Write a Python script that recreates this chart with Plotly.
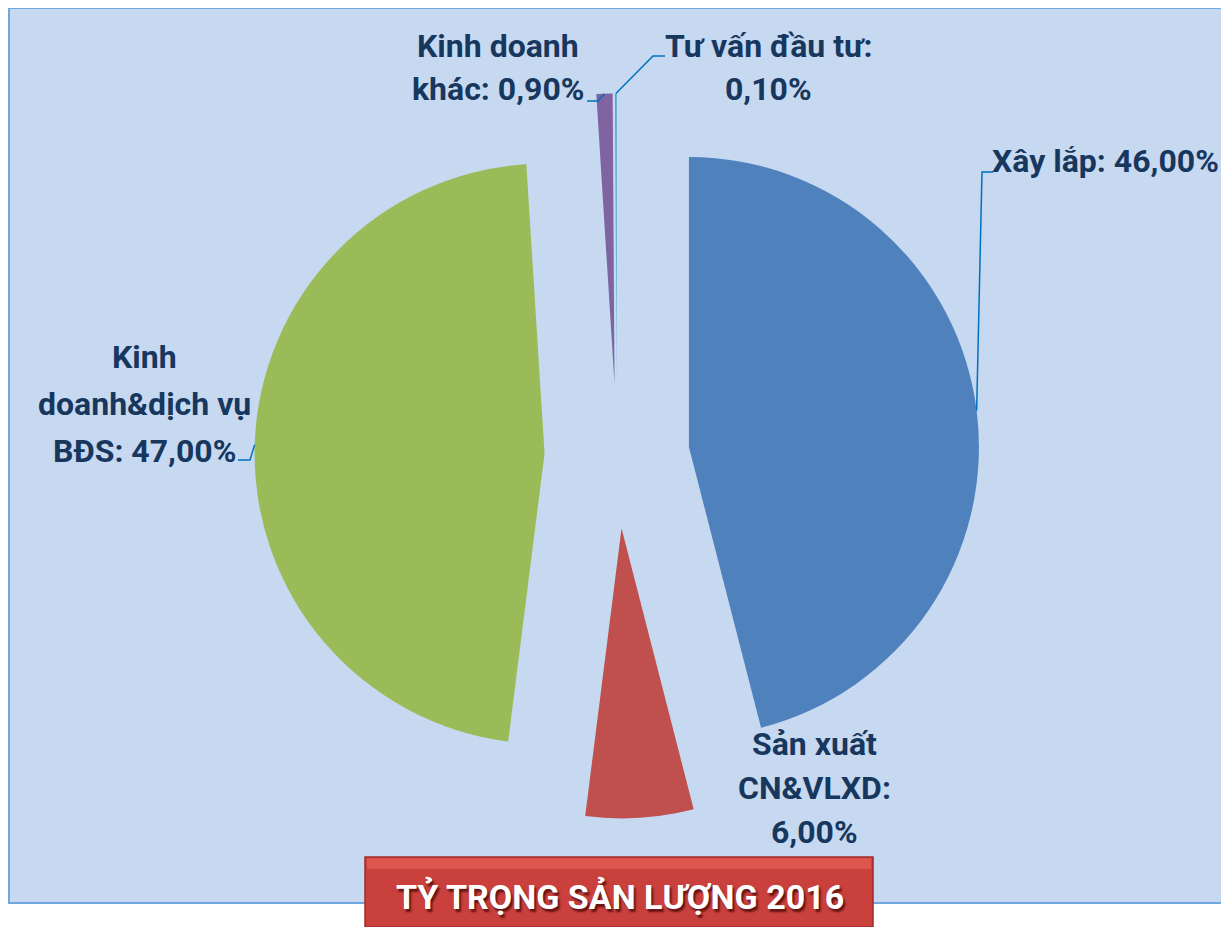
import math
import plotly.graph_objects as go

labels = ["Xây lắp", "Sản xuất CN&VLXD", "Kinh doanh&dịch vụ BĐS", "Kinh doanh khác", "Tư vấn đầu tư"]
values = [46.0, 6.0, 47.0, 0.9, 0.1]
colors = ["#4F81BD", "#C0504D", "#9BBB59", "#8064A2", "#4BACC6"]
label_lines = [
    ["Xây lắp: 46,00%"],
    ["Sản xuất", "CN&VLXD:", "6,00%"],
    ["Kinh", "doanh&dịch vụ", "BĐS: 47,00%"],
    ["Kinh doanh", "khác: 0,90%"],
    ["Tư vấn đầu tư:", "0,10%"],
]
title_text = "TỶ TRỌNG SẢN LƯỢNG 2016"

# page is 1229x935, body has an 8px margin around the plot div
W, H = 1229, 935
OFF = 8
FW, FH = W - 2 * OFF, H - 2 * OFF
FONT = "Roboto, Liberation Sans, Arial, sans-serif"
TXT = "#17375E"
LEADER = "#0070C0"

# pie geometry in page pixels
cx, cy = 617, 456
R = 290
pull = 0.25
S = R * (1 + pull)


def px(x):
    return (x - OFF) / FW


def py(y):
    return 1 - (y - OFF) / FH


fig = go.Figure()
fig.add_trace(go.Pie(
    labels=labels,
    values=values,
    sort=False,
    direction="clockwise",
    rotation=0,
    pull=[pull] * len(values),
    marker=dict(colors=colors, line=dict(width=0)),
    textinfo="none",
    hoverinfo="label+percent",
    showlegend=False,
    domain=dict(x=[px(cx - S), px(cx + S)], y=[py(cy + S), py(cy - S)]),
))

# arc midpoint of each pulled slice
total = sum(values)
anchors = []
cum = 0
for v in values:
    a = (cum + v / 2) / total * 2 * math.pi
    cum += v
    ox = cx + pull * R * math.sin(a)
    oy = cy - pull * R * math.cos(a)
    anchors.append((ox + R * math.sin(a), oy - R * math.cos(a)))

# label centre x, y of first line, line step; leader elbows (page pixels)
label_pos = [(1105, 161, 0), (814, 744, 44), (144, 357, 47), (498, 46, 43), (768, 46, 43)]
elbows = [
    [(982, 172), (993, 172)],
    None,
    [(250, 460), (238, 460)],
    [(598, 101), (587, 101)],
    [(653, 56), (665, 56)],
]

shapes = [
    dict(type="rect", xref="paper", yref="paper", layer="below",
         x0=px(9), x1=px(1227), y0=py(903), y1=py(8),
         fillcolor="#C6D9F1", line=dict(color="#6FA8DC", width=2)),
]
for anc, elb in zip(anchors, elbows):
    if elb is None:
        continue
    pts = [anc] + elb
    path = "M " + " L ".join(f"{px(x)},{py(y)}" for x, y in pts)
    shapes.append(dict(type="path", xref="paper", yref="paper", path=path,
                       line=dict(color=LEADER, width=1.5)))

# title box
shapes.append(dict(type="rect", xref="paper", yref="paper",
                   x0=px(365), x1=px(873), y0=0, y1=py(857),
                   fillcolor="#C9403D", line=dict(color="#9E2B29", width=1.5)))
shapes.append(dict(type="rect", xref="paper", yref="paper",
                   x0=px(367), x1=px(871), y0=py(869), y1=py(858),
                   fillcolor="#DE5550", line=dict(width=0)))

annotations = []
for lines, (x, y, step) in zip(label_lines, label_pos):
    for i, t in enumerate(lines):
        annotations.append(dict(
            text=t, x=px(x), y=py(y + i * step), xref="paper", yref="paper",
            xanchor="center", yanchor="middle", showarrow=False,
            font=dict(family=FONT, size=32, color=TXT, weight="bold"),
        ))
annotations.append(dict(
    text=title_text, x=px(620), y=py(896), xref="paper", yref="paper",
    xanchor="center", yanchor="middle", showarrow=False,
    font=dict(family=FONT, size=34, color="white", weight="bold",
              shadow="2px 3px 2px rgba(60,0,0,0.7)"),
))

fig.update_layout(
    width=FW, height=FH,
    margin=dict(l=0, r=0, t=0, b=0),
    paper_bgcolor="white",
    shapes=shapes,
    annotations=annotations,
)

fig.write_html("out.html")
